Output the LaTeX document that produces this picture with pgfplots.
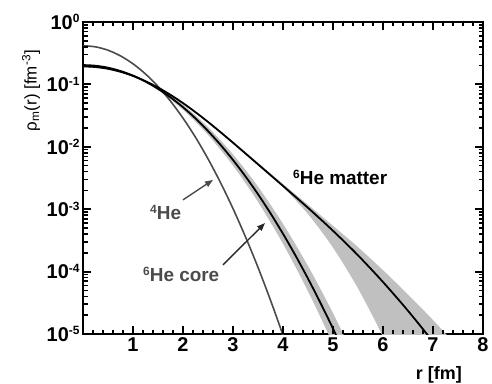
\documentclass[border=0pt]{standalone}
\usepackage{fontspec}
\setmainfont{Liberation Sans}
\usepackage{pgfplots}
\pgfplotsset{compat=1.18}
\usepgfplotslibrary{fillbetween}
\usetikzlibrary{arrows.meta}
\definecolor{bandgray}{RGB}{192,192,192}
\definecolor{hegray}{RGB}{75,75,75}
\newcommand{\tsup}[1]{\raisebox{6.5bp}{\fontsize{12}{12}\selectfont #1}}
\newcommand{\isup}[1]{\raisebox{6bp}{\fontsize{12}{12}\selectfont #1}}
\begin{document}
\begin{tikzpicture}
\begin{axis}[
 name=ax, scale only axis, width=400bp, height=312bp,
 xmin=0, xmax=8, ymin=1e-5, ymax=1, ymode=log,
 /pgf/number format/assume math mode=true,
 xtick={1,2,3,4,5,6,7,8},
 xticklabels={1,2,3,4,5,6,7,8},
 ytick={1e-5,1e-4,1e-3,1e-2,1e-1,1},
 yticklabels={10\tsup{-5},10\tsup{-4},10\tsup{-3},10\tsup{-2},10\tsup{-1},10\tsup{0}},
 ticklabel style={font=\fontsize{20}{20}\selectfont\bfseries},
 axis line style={line width=2.2bp},
 major tick length=7bp,
 major tick style={draw=black, line width=1.6bp},
 minor tick style={draw=black, line width=1.4bp},
 xlabel={r [fm]},
 xlabel style={at={(axis description cs:0.9475,-0.131)}, anchor=east, font=\fontsize{18}{18}\selectfont\bfseries, inner sep=0pt},
 ylabel={ρ\textsubscript{m}(r) [fm\textsuperscript{-3}]},
 ylabel style={at={(axis description cs:-0.13,0.78)}, anchor=center, font=\fontsize{17}{17}\selectfont, inner sep=0pt},
]
% matter band
\addplot[draw=none, name path=mU, smooth] coordinates {(0,0.1988) (0.5,0.1820) (1,0.1399) (1.5,0.0917) (2,0.05186) (2.5,0.02606) (3,0.01217) (3.5,0.005553) (4,0.002531) (4.5,1.180e-3) (5,5.42e-4) (5.5,2.461e-4) (6,1.055e-4) (6.5,4.286e-5) (7,1.675e-5) (7.5,6.14e-6)};
\addplot[draw=none, name path=mL, smooth] coordinates {(0,0.1898) (0.5,0.1738) (1,0.1337) (1.5,0.0871) (2,0.04895) (2.5,0.02445) (3,0.01135) (3.5,0.005066) (4,0.002255) (4.5,8.35e-4) (5,2.42e-4) (5.5,5.38e-5) (6,8.99e-6) (6.5,1.13e-6) (7,1.08e-7) (7.5,7.5e-9)};
\addplot[bandgray, draw=none] fill between[of=mU and mL];
% core band
\addplot[draw=none, name path=cU, smooth] coordinates {(0,0.2042) (0.5,0.1864) (1,0.1416) (1.5,8.98e-2) (2,4.72e-2) (2.5,2.07e-2) (3,7.57e-3) (3.5,2.30e-3) (4,5.83e-4) (4.5,1.23e-4) (5,2.16e-5) (5.5,3.16e-6)};
\addplot[draw=none, name path=cL, smooth] coordinates {(0,0.2042) (0.5,0.1842) (1,0.1352) (1.5,8.08e-2) (2,3.93e-2) (2.5,1.55e-2) (3,5.00e-3) (3.5,1.31e-3) (4,2.79e-4) (4.5,4.84e-5) (5,6.84e-6) (5.5,8.0e-7)};
\addplot[bandgray, draw=none] fill between[of=cU and cL];
% 4He
\addplot[hegray, line width=1.6bp, smooth] coordinates {(0,0.4169) (0.25,0.3998) (0.5,0.3528) (0.75,0.2863) (1,0.2138) (1.25,0.1469) (1.5,0.0928) (1.75,0.0539) (2,0.0288) (2.25,0.0142) (2.5,0.00642) (2.75,0.00267) (3,0.001023) (3.25,3.60e-4) (3.5,1.168e-4) (3.75,3.48e-5) (4,9.55e-6) (4.25,2.41e-6)};
% 6He core
\addplot[black, line width=1.8bp, smooth] coordinates {(0,0.2042) (0.25,0.1993) (0.5,0.1853) (0.75,0.1640) (1,0.1384) (1.25,0.1111) (1.5,8.505e-2) (1.75,6.20e-2) (2,4.31e-2) (2.25,2.85e-2) (2.5,1.79e-2) (2.75,1.076e-2) (3,6.15e-3) (3.25,3.35e-3) (3.5,1.74e-3) (3.75,8.58e-4) (4,4.04e-4) (4.25,1.81e-4) (4.5,7.72e-5) (4.75,3.14e-5) (5,1.22e-5) (5.25,4.49e-6)};
% 6He matter
\addplot[black, line width=1.8bp, smooth] coordinates {(0,0.1943) (0.25,0.1900) (0.5,0.1779) (0.75,0.1593) (1,0.1368) (1.25,0.1126) (1.5,0.08913) (1.75,0.06797) (2,0.0501) (2.25,0.03585) (2.5,0.02503) (2.75,0.01716) (3,0.01162) (3.25,0.007813) (3.5,0.005244) (3.75,0.003519) (4,0.002361) (4.5,1.052e-3) (5,4.51e-4) (5.5,1.824e-4) (6,6.81e-5) (6.5,2.355e-5) (7,7.48e-6) (7.5,2.18e-6)};
% annotations
\node[anchor=west, inner sep=0pt, font=\fontsize{19}{19}\selectfont\bfseries] at (axis cs:4.2,3.28e-3) {\isup{6}He matter};
\node[anchor=west, inner sep=0pt, text=hegray, font=\fontsize{19}{19}\selectfont\bfseries] at (axis cs:1.34,8.7e-4) {\isup{4}He};
\node[anchor=west, inner sep=0pt, text=hegray, font=\fontsize{19}{19}\selectfont\bfseries] at (axis cs:1.2,9.1e-5) {\isup{6}He core};
\draw[hegray, line width=1.4bp, -{Triangle[length=8bp,width=6bp]}] (axis cs:2.0,1.41e-3) -- (axis cs:2.6,2.95e-3);
\draw[black!85, line width=1.4bp, -{Triangle[length=8bp,width=6bp]}] (axis cs:2.8,1.28e-4) -- (axis cs:3.64,6.0e-4);
\end{axis}
% tick marks on all four sides, drawn as small filled bars
\begin{scope}[shift={(ax.south west)}]
 \foreach \i in {1,...,39} {
   \fill[black] ({\i*10bp-0.8bp},0bp) rectangle ++(1.6bp,4.5bp);
   \fill[black] ({\i*10bp-0.8bp},312bp) rectangle ++(1.6bp,-4.5bp);
 }
 \foreach \i in {1,...,7} {
   \fill[black] ({\i*50bp-1bp},0bp) rectangle ++(2bp,8bp);
   \fill[black] ({\i*50bp-1bp},312bp) rectangle ++(2bp,-8bp);
 }
 \foreach \d in {0,...,4} {
   \foreach \k in {2,...,9} {
     \fill[black] (0bp,{(\d+log10(\k))*62.4bp-0.8bp}) rectangle ++(4.5bp,1.6bp);
     \fill[black] (400bp,{(\d+log10(\k))*62.4bp-0.8bp}) rectangle ++(-4.5bp,1.6bp);
   }
 }
 \foreach \d in {1,...,4} {
   \fill[black] (0bp,{\d*62.4bp-1bp}) rectangle ++(8bp,2bp);
   \fill[black] (400bp,{\d*62.4bp-1bp}) rectangle ++(-8bp,2bp);
 }
\end{scope}
\path ([xshift=-83bp,yshift=-49bp]ax.south west) rectangle ([xshift=9bp,yshift=22bp]ax.north east);
\end{tikzpicture}
\end{document}
